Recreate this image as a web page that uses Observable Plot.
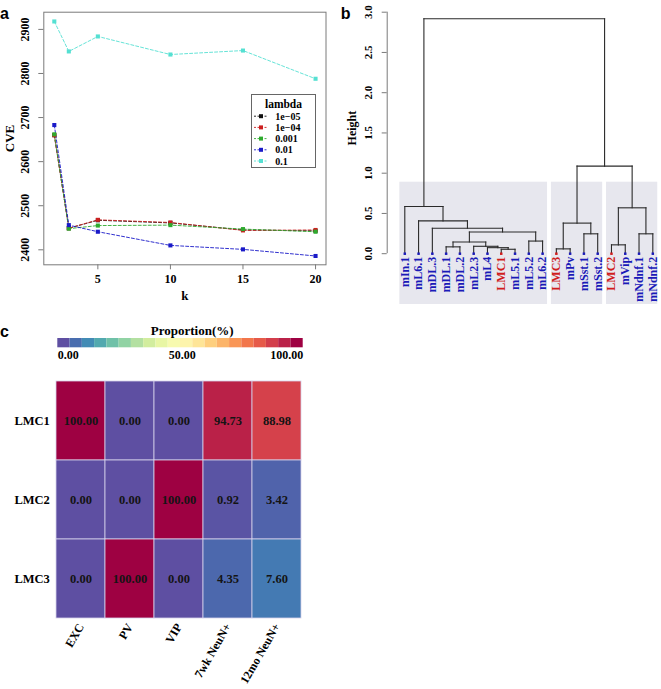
<!DOCTYPE html>
<html><head><meta charset="utf-8">
<script src="https://cdn.jsdelivr.net/npm/d3@7"></script>
<script src="https://cdn.jsdelivr.net/npm/@observablehq/plot@0.6"></script>
<style>
body{margin:0;background:#fff;}
#root{position:relative;width:661px;height:689px;overflow:hidden;background:#fff;}
.plab{position:absolute;font-family:"Liberation Sans",Arial,sans-serif;font-weight:bold;font-size:16px;line-height:16px;color:#000;}
</style></head><body><div id="root"></div>
<script>
// ---------- Panel a data ----------
const kValues = [2, 3, 5, 10, 15, 20];
const lambdaLevels = ["1e\u221205", "1e\u221204", "0.001", "0.01", "0.1"];
const lambdaColors = ["#111111", "#cc1f1f", "#2eaa2e", "#1a1ac8", "#55e0d2"];
const cve_1e05 = [2660, 2449, 2467, 2461, 2445, 2443];
const cve_1e04 = [2660, 2449, 2468, 2462, 2444, 2445];
const cve_0001 = [2662, 2448, 2455, 2456, 2447, 2441];
const cve_001  = [2683, 2456, 2441, 2410, 2401, 2386];
const cve_01   = [2918, 2850, 2884, 2843, 2852, 2788];
const cveTicksY = [2400, 2500, 2600, 2700, 2800, 2900];
const kTicks = [5, 10, 15, 20];

// ---------- Panel b data ----------
const leafLabels = ["mIn.1","mL6.1","mDL.3","mDL.1","mDL.2","mL2.3","mL4","LMC1","mL5.1","mL5.2","mL6.2","LMC3","mPv","mSst.1","mSst.2","LMC2","mVip","mNdnf.1","mNdnf.2"];
// R hclust-style merges: negative = leaf (1-based), positive = earlier merge (1-based)
const mergeLeft   = [-8, -12, -7, -4, -6, -16,  4, -10, -14, -18,  7, -3,  2, -2,  6, -1, 13, 16];
const mergeRight  = [-9, -13,  1, -5,  3, -17,  5, -11, -15, -19,  8, 11,  9, 12, 10, 14, 15, 17];
const mergeHeight = [0.055, 0.06, 0.075, 0.085, 0.092, 0.11, 0.145, 0.157, 0.247, 0.247, 0.27, 0.317, 0.38, 0.408, 0.57, 0.586, 1.088, 2.918];
const clusterFirst = [1, 12, 16];
const clusterLast  = [11, 15, 19];
const clusterBoxTop = 0.888;
const heightTicks = [0, 0.5, 1, 1.5, 2, 2.5, 3];

// ---------- Panel c data ----------
const rowNames = ["LMC1", "LMC2", "LMC3"];
const colNames = ["EXC", "PV", "VIP", "7wk NeuN+", "12mo NeuN+"];
const propLMC1 = [100, 0, 0, 94.73, 88.98];
const propLMC2 = [0, 0, 100, 0.92, 3.42];
const propLMC3 = [0, 100, 0, 4.35, 7.60];
const legendTicks = [0, 50, 100];

const root = document.getElementById("root");
function place(el, left, top) { el.style.position = "absolute"; el.style.left = left + "px"; el.style.top = top + "px"; root.appendChild(el); }
const serif = '"Liberation Serif","Times New Roman",serif';
const baseStyle = {fontFamily: serif, fontWeight: "bold", fontSize: "12px", overflow: "visible", background: "transparent", color: "#000"};
const C = {textAnchor: "middle", lineAnchor: "middle"};

// ================= Panel a =================
const seriesA = [cve_1e05, cve_1e04, cve_0001, cve_001, cve_01];
const aData = [];
lambdaLevels.forEach((lv, j) => kValues.forEach((k, i) => aData.push({k, cve: seriesA[j][i], lambda: lv})));
const plotA = Plot.plot({
  width: 330, height: 310, marginLeft: 43.3, marginRight: 4.5, marginTop: 11.7, marginBottom: 45.7,
  style: baseStyle,
  x: {domain: [1.276, 20.72]}, y: {domain: [2366, 2939]},
  color: {domain: lambdaLevels, range: lambdaColors},
  marks: [
    Plot.line(aData, {x: "k", y: "cve", z: "lambda", stroke: "lambda", strokeWidth: 0.9, strokeDasharray: "3,2"}),
    Plot.dot(aData, {x: "k", y: "cve", fill: "lambda", symbol: "square", r: 2.3}),
    Plot.frame({stroke: "#7a7a7a", strokeWidth: 1}),
    Plot.axisY({ticks: cveTicksY, tickSize: 5, tickFormat: () => "", stroke: "#7a7a7a", label: null}),
    Plot.axisX({ticks: kTicks, tickSize: 5, tickFormat: () => "", stroke: "#7a7a7a", label: null}),
    Plot.text(cveTicksY, {...C, y: d => d, frameAnchor: "left", dx: -18.3, rotate: -90, text: d => String(d)}),
    Plot.text(kTicks, {...C, x: d => d, frameAnchor: "bottom", dy: 14, text: d => String(d)}),
    Plot.text(["k"], {...C, frameAnchor: "bottom", dy: 30.7, fontSize: 13}),
    Plot.text(["CVE"], {...C, frameAnchor: "left", dx: -33.8, rotate: -90, fontSize: 13})
  ]
});
place(plotA, 0, 0);

// legend for panel a
const legW = 65, legH = 74;
const leg = d3.create("svg").attr("width", legW).attr("height", legH)
  .style("font-family", serif).style("font-weight", "bold").style("font-size", "10px").style("overflow", "visible");
leg.append("rect").attr("x", 0.5).attr("y", 0.5).attr("width", legW - 1).attr("height", legH - 1).attr("fill", "#fff").attr("stroke", "#666");
leg.append("text").attr("x", legW / 2).attr("y", 9.5).attr("text-anchor", "middle").attr("dominant-baseline", "central").style("font-size", "11.5px").text("lambda");
lambdaLevels.forEach((lv, i) => {
  const y = 22.2 + i * 11.2;
  leg.append("line").attr("x1", 3).attr("x2", 17).attr("y1", y).attr("y2", y).attr("stroke", lambdaColors[i]).attr("stroke-dasharray", "2,1.5").attr("stroke-width", 0.9);
  leg.append("rect").attr("x", 8).attr("y", y - 2).attr("width", 4).attr("height", 4).attr("fill", lambdaColors[i]);
  leg.append("text").attr("x", 24.3).attr("y", y).attr("dominant-baseline", "central").text(lv);
});
place(leg.node(), 250.7, 94);

// ================= Panel b =================
const nodeX = [], nodeY = [];
const pos = id => id < 0 ? [-id, 0] : [nodeX[id - 1], nodeY[id - 1]];
const segs = [];
mergeHeight.forEach((h, i) => {
  const [xl, yl] = pos(mergeLeft[i]);
  const [xr, yr] = pos(mergeRight[i]);
  nodeX[i] = (xl + xr) / 2; nodeY[i] = h;
  segs.push({x1: xl, y1: yl, x2: xl, y2: h}, {x1: xl, y1: h, x2: xr, y2: h}, {x1: xr, y1: yr, x2: xr, y2: h});
});
const leaves = leafLabels.map((name, i) => ({name, x: i + 1, lmc: name.startsWith("LMC")}));
const clusters = clusterFirst.map((f, i) => ({first: f, last: clusterLast[i]}));
const bXmin = -0.277;
const plotB = Plot.plot({
  width: 331, height: 310, marginLeft: 56.7, marginRight: 1.8, marginTop: 11.7, marginBottom: 56.8,
  style: baseStyle,
  x: {domain: [bXmin, 19.5], axis: null}, y: {domain: [0, 3]},
  marks: [
    Plot.rect(clusters, {x1: d => d.first - 0.36, x2: d => d.last + 0.36, y1: -0.631, y2: clusterBoxTop, fill: "#e7e7ee"}),
    Plot.link(segs, {x1: "x1", y1: "y1", x2: "x2", y2: "y2", stroke: "#2a2a2a", strokeWidth: 1.1, strokeLinecap: "square"}),
    Plot.dot(leaves, {x: "x", y: 0, fill: d => d.lmc ? "#d01c1c" : "#1a1ab8", symbol: "square", r: 1.4}),
    Plot.text(leaves, {x: "x", y: 0, text: "name", rotate: -90, textAnchor: "end", lineAnchor: "middle", dy: 3, fill: d => d.lmc ? "#d01c1c" : "#1a1ab8", fontSize: 12}),
    Plot.ruleX([bXmin], {y1: 0, y2: 3, stroke: "#7a7a7a"}),
    Plot.axisY({ticks: heightTicks, tickSize: 5, tickFormat: () => "", stroke: "#7a7a7a", label: null, anchor: "left"}),
    Plot.text(heightTicks, {...C, y: d => d, frameAnchor: "left", dx: -18.5, rotate: -90, text: d => d.toFixed(1), fontSize: 11}),
    Plot.text(["Height"], {...C, y: () => 1.56, frameAnchor: "left", dx: -35, rotate: -90, fontSize: 12})
  ]
});
place(plotB, 330, 0);

// ================= Panel c =================
const colorOpts = {type: "linear", scheme: "spectral", reverse: true, domain: [0, 100]};
const bins = d3.range(20);
const plotLegend = Plot.plot({
  width: 330, height: 60, marginLeft: 57.3, marginRight: 27.3, marginTop: 28, marginBottom: 22.7,
  style: baseStyle,
  x: {domain: [0, 100], axis: null}, y: {axis: null},
  color: colorOpts,
  marks: [
    Plot.rect(bins, {x1: d => d * 5, x2: d => (d + 1) * 5, fill: d => d * 100 / 19}),
    Plot.text([legendTicks[0]], {x: d => d, frameAnchor: "bottom", dy: 7.2, textAnchor: "start", lineAnchor: "middle", text: d => d.toFixed(2)}),
    Plot.text([legendTicks[1]], {x: d => d, frameAnchor: "bottom", dy: 7.2, dx: 1.7, textAnchor: "middle", lineAnchor: "middle", text: d => d.toFixed(2)}),
    Plot.text([legendTicks[2]], {x: d => d, frameAnchor: "bottom", dy: 7.2, textAnchor: "end", lineAnchor: "middle", text: d => d.toFixed(2)}),
    Plot.text(["Proportion(%)"], {...C, frameAnchor: "top", dy: -8, dx: 11.7, fontSize: 13})
  ]
});
place(plotLegend, 0, 310);

const propRows = [propLMC1, propLMC2, propLMC3];
const cells = [];
rowNames.forEach((r, i) => colNames.forEach((c, j) => cells.push({row: r, col: c, value: propRows[i][j]})));
const plotC = Plot.plot({
  width: 330, height: 319, marginLeft: 54, marginRight: 27.3, marginTop: 9.3, marginBottom: 70,
  style: baseStyle,
  x: {domain: colNames, padding: 0, axis: null}, y: {domain: rowNames, padding: 0, axis: null},
  color: colorOpts,
  marks: [
    Plot.cell(cells, {x: "col", y: "row", fill: "value", stroke: "#d6d2ec", strokeWidth: 0.8}),
    Plot.text(cells, {...C, x: "col", y: "row", text: d => d.value.toFixed(2), fill: "#141414", fontSize: 12.5}),
    Plot.text(rowNames, {y: d => d, frameAnchor: "left", dx: -4.7, textAnchor: "end", lineAnchor: "middle", fontSize: 12.5}),
    Plot.text(colNames, {x: d => d, frameAnchor: "bottom", rotate: -60, textAnchor: "end", lineAnchor: "middle", dx: 0, dy: 5, fontSize: 12})
  ]
});
place(plotC, 0, 370);

// panel letters
[["a", 0, 6.2], ["b", 340.7, 6.2], ["c", 0, 323.7]].forEach(([t, x, y]) => {
  const d = document.createElement("div"); d.className = "plab"; d.textContent = t; place(d, x, y);
});
</script></body></html>
